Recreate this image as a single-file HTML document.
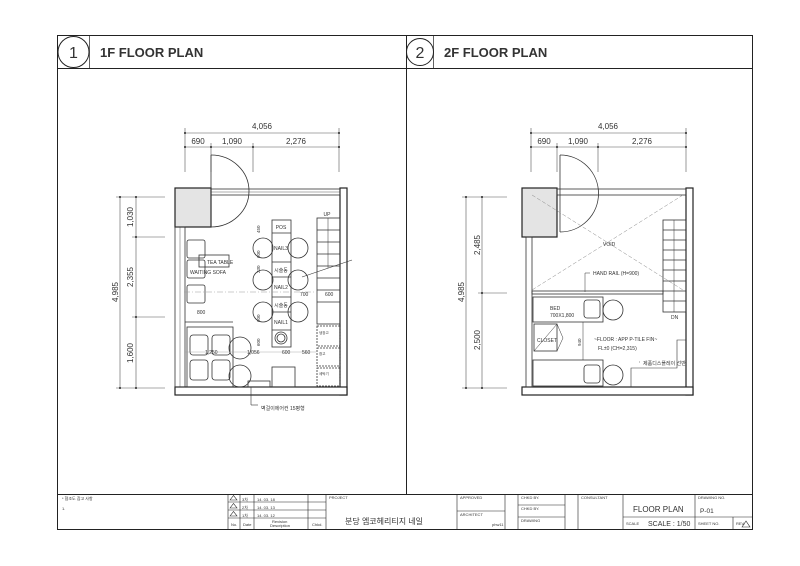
<!DOCTYPE html>
<html><head><meta charset="utf-8"><style>
html,body{margin:0;padding:0;background:#fff;}
svg{display:block;}
text{font-family:"Liberation Sans","Noto Sans CJK KR",sans-serif;fill:#333;}
</style></head><body>
<svg width="800" height="566" viewBox="0 0 800 566" xmlns="http://www.w3.org/2000/svg">
<rect width="800" height="566" fill="#fff"/>
<!-- frame -->
<rect x="57.5" y="35.5" width="695" height="494" fill="none" stroke="#222" stroke-width="1"/>
<line x1="57" y1="68.5" x2="752" y2="68.5" stroke="#222"/>
<line x1="406.5" y1="35" x2="406.5" y2="494" stroke="#222"/>
<line x1="89.5" y1="35" x2="89.5" y2="68" stroke="#222" stroke-width=".7"/>
<line x1="433.5" y1="35" x2="433.5" y2="68" stroke="#222" stroke-width=".7"/>
<circle cx="73.5" cy="52" r="15.5" fill="none" stroke="#222"/>
<circle cx="420" cy="52" r="13.5" fill="none" stroke="#222"/>
<text x="73.5" y="58" font-size="16" text-anchor="middle" fill="#111">1</text>
<text x="420" y="58" font-size="16" text-anchor="middle" fill="#111">2</text>
<text x="100" y="57" font-size="13" font-weight="bold" fill="#111">1F FLOOR PLAN</text>
<text x="444" y="57" font-size="13" font-weight="bold" fill="#111">2F FLOOR PLAN</text>

<!-- ===== PLAN 1 ===== -->
<g stroke="#555" stroke-width=".6" fill="none">
<line x1="185" y1="133" x2="339" y2="133"/>
<line x1="185" y1="147" x2="339" y2="147"/>
<line x1="185" y1="128" x2="185" y2="172"/><line x1="211" y1="143" x2="211" y2="172"/>
<line x1="253" y1="143" x2="253" y2="172"/><line x1="339" y1="128" x2="339" y2="172"/>
<line x1="120" y1="197" x2="120" y2="388"/><line x1="136" y1="197" x2="136" y2="388"/>
<line x1="116" y1="197" x2="165" y2="197"/><line x1="132" y1="237" x2="165" y2="237"/>
<line x1="132" y1="317" x2="165" y2="317"/><line x1="116" y1="388" x2="165" y2="388"/>
</g>
<g fill="#222"><circle cx="185" cy="133" r="1"/><circle cx="339" cy="133" r="1"/><circle cx="185" cy="147" r="1"/><circle cx="211" cy="147" r="1"/><circle cx="253" cy="147" r="1"/><circle cx="339" cy="147" r="1"/>
<circle cx="120" cy="197" r="1"/><circle cx="120" cy="388" r="1"/><circle cx="136" cy="197" r="1"/><circle cx="136" cy="237" r="1"/><circle cx="136" cy="317" r="1"/><circle cx="136" cy="388" r="1"/></g>
<text x="262" y="129" font-size="8" text-anchor="middle">4,056</text>
<text x="198" y="144" font-size="8" text-anchor="middle">690</text>
<text x="232" y="144" font-size="8" text-anchor="middle">1,090</text>
<text x="296" y="144" font-size="8" text-anchor="middle">2,276</text>
<text transform="translate(118,292) rotate(-90)" font-size="8" text-anchor="middle">4,985</text>
<text transform="translate(133,217) rotate(-90)" font-size="8" text-anchor="middle">1,030</text>
<text transform="translate(133,277) rotate(-90)" font-size="8" text-anchor="middle">2,355</text>
<text transform="translate(133,353) rotate(-90)" font-size="8" text-anchor="middle">1,600</text>

<g stroke="#333" stroke-width=".8" fill="none">
<rect x="175" y="188" width="36" height="39" fill="#e4e4e4" stroke="#222" stroke-width="1.2"/>
<rect x="340" y="188" width="7" height="207" fill="#fff" stroke="#222" stroke-width="1.2"/>
<rect x="175" y="387" width="172" height="8" fill="#fff" stroke="#222" stroke-width="1.2"/>
<rect x="211" y="189" width="129" height="6"/>
<line x1="211" y1="192" x2="340" y2="192" stroke-width=".4"/>
<line x1="211" y1="155" x2="211" y2="227"/>
<path d="M211 155 A38 36 0 0 1 211 227"/>
<rect x="175" y="227" width="10" height="160"/>
<line x1="180" y1="227" x2="180" y2="387" stroke-width=".4"/>
<!-- sofa -->
<rect x="187" y="240" width="18" height="18" rx="2"/><rect x="187" y="260" width="18" height="18" rx="2"/><rect x="187" y="285" width="18" height="18" rx="2"/>
<rect x="199" y="255" width="30" height="12"/>
<line x1="185" y1="322" x2="233" y2="322"/>
<!-- lower cabinets -->
<rect x="187" y="327" width="46" height="60"/>
<rect x="190" y="335" width="18" height="20" rx="3"/><rect x="190" y="360" width="18" height="20" rx="3"/>
<rect x="212" y="335" width="18" height="20" rx="3"/><rect x="212" y="360" width="18" height="20" rx="3"/>
<circle cx="240" cy="348" r="11"/><circle cx="240" cy="376" r="11"/>
<!-- counter -->
<rect x="272" y="220" width="19" height="127"/>
<line x1="272" y1="233" x2="291" y2="233"/><line x1="272" y1="262" x2="291" y2="262"/>
<line x1="272" y1="277" x2="291" y2="277"/><line x1="272" y1="297" x2="291" y2="297"/>
<line x1="272" y1="312" x2="291" y2="312"/><line x1="272" y1="330" x2="291" y2="330"/>
<circle cx="281" cy="338" r="6"/><circle cx="281" cy="338" r="4"/>
<circle cx="263" cy="248" r="10"/><circle cx="298" cy="248" r="10"/>
<circle cx="263" cy="280" r="10"/><circle cx="298" cy="280" r="10"/>
<circle cx="263" cy="312" r="10"/><circle cx="298" cy="312" r="10"/>
<!-- stairs -->
<rect x="317" y="218" width="23" height="106"/>
<line x1="317" y1="230" x2="340" y2="230"/><line x1="317" y1="242" x2="340" y2="242"/><line x1="317" y1="254" x2="340" y2="254"/>
<line x1="317" y1="266" x2="340" y2="266"/><line x1="317" y1="278" x2="340" y2="278"/><line x1="317" y1="290" x2="340" y2="290"/><line x1="317" y1="302" x2="340" y2="302"/>
<line x1="328" y1="218" x2="328" y2="268" stroke-width=".5"/>
<line x1="302" y1="277" x2="352" y2="260" stroke-width=".6"/>
<rect x="317" y="326" width="23" height="20" stroke-dasharray="2 1"/><rect x="317" y="348" width="23" height="18" stroke-dasharray="2 1"/><rect x="317" y="368" width="23" height="18" stroke-dasharray="2 1"/>
<rect x="272" y="367" width="23" height="20"/>
<rect x="248" y="381" width="22" height="6"/>
<line x1="251" y1="387" x2="251" y2="405" stroke-width=".6"/><line x1="251" y1="405" x2="258" y2="405" stroke-width=".6"/>
<line x1="184" y1="292" x2="316" y2="292" stroke="#999" stroke-dasharray="6 2 1 2" stroke-width=".5"/>
<line x1="185" y1="352" x2="316" y2="352" stroke="#999" stroke-width=".4"/>
</g>
<g font-size="5">
<text x="281" y="229" text-anchor="middle">POS</text>
<text x="281" y="250" text-anchor="middle">NAIL3</text>
<text x="281" y="272" text-anchor="middle">시술동</text>
<text x="281" y="289" text-anchor="middle">NAIL2</text>
<text x="281" y="307" text-anchor="middle">시술동</text>
<text x="281" y="324" text-anchor="middle">NAIL1</text>
<text x="207" y="264">TEA TABLE</text>
<text x="190" y="274">WAITING SOFA</text>
<text x="327" y="216" text-anchor="middle">UP</text>
<text x="300" y="296">700</text><text x="325" y="296">600</text>
<text x="197" y="314">800</text>
<text x="205" y="354">1,250</text><text x="247" y="354">1,056</text>
<text x="282" y="354">600</text><text x="302" y="354">560</text>
<text x="319" y="334" font-size="3.5">냉장고</text>
<text x="319" y="355" font-size="3.5">창고</text>
<text x="319" y="375" font-size="3.5">세탁기</text>
<text x="261" y="410">벽걸이에어컨 15평형</text>
</g>
<text transform="translate(260,233) rotate(-90)" font-size="4.5">450</text>
<text transform="translate(260,258) rotate(-90)" font-size="4.5">600</text>
<text transform="translate(260,273) rotate(-90)" font-size="4.5">230</text>
<text transform="translate(260,322) rotate(-90)" font-size="4.5">600</text>
<text transform="translate(260,346) rotate(-90)" font-size="4.5">600</text>

<!-- ===== PLAN 2 ===== -->
<g stroke="#555" stroke-width=".6" fill="none">
<line x1="531" y1="133" x2="686" y2="133"/>
<line x1="531" y1="147" x2="686" y2="147"/>
<line x1="531" y1="128" x2="531" y2="172"/><line x1="557" y1="143" x2="557" y2="172"/>
<line x1="598" y1="143" x2="598" y2="172"/><line x1="686" y1="128" x2="686" y2="172"/>
<line x1="466" y1="197" x2="466" y2="388"/><line x1="482" y1="197" x2="482" y2="388"/>
<line x1="462" y1="197" x2="507" y2="197"/><line x1="478" y1="293" x2="507" y2="293"/>
<line x1="462" y1="388" x2="507" y2="388"/>
</g>
<g fill="#222"><circle cx="531" cy="133" r="1"/><circle cx="686" cy="133" r="1"/><circle cx="531" cy="147" r="1"/><circle cx="557" cy="147" r="1"/><circle cx="598" cy="147" r="1"/><circle cx="686" cy="147" r="1"/>
<circle cx="466" cy="197" r="1"/><circle cx="466" cy="388" r="1"/><circle cx="482" cy="197" r="1"/><circle cx="482" cy="293" r="1"/><circle cx="482" cy="388" r="1"/></g>
<text x="608" y="129" font-size="8" text-anchor="middle">4,056</text>
<text x="544" y="144" font-size="8" text-anchor="middle">690</text>
<text x="578" y="144" font-size="8" text-anchor="middle">1,090</text>
<text x="642" y="144" font-size="8" text-anchor="middle">2,276</text>
<text transform="translate(464,292) rotate(-90)" font-size="8" text-anchor="middle">4,985</text>
<text transform="translate(480,245) rotate(-90)" font-size="8" text-anchor="middle">2,485</text>
<text transform="translate(480,340) rotate(-90)" font-size="8" text-anchor="middle">2,500</text>

<g stroke="#333" stroke-width=".8" fill="none">
<rect x="522" y="188" width="35" height="49" fill="#e4e4e4" stroke="#222" stroke-width="1.2"/>
<rect x="686" y="188" width="7" height="207" fill="#fff" stroke="#222" stroke-width="1.2"/>
<rect x="522" y="387" width="171" height="8" fill="#fff" stroke="#222" stroke-width="1.2"/>
<rect x="557" y="189" width="129" height="6"/>
<line x1="560" y1="155" x2="560" y2="232"/>
<path d="M560 155 A38 38 0 0 1 560 232"/>
<rect x="526" y="237" width="6" height="150"/>
<line x1="532" y1="195" x2="683" y2="290" stroke="#888" stroke-dasharray="4 2" stroke-width=".5"/>
<line x1="683" y1="195" x2="532" y2="290" stroke="#888" stroke-dasharray="4 2" stroke-width=".5"/>
<rect x="532" y="291" width="131" height="3"/>
<rect x="663" y="220" width="23" height="92"/>
<line x1="663" y1="230" x2="686" y2="230"/><line x1="663" y1="240" x2="686" y2="240"/><line x1="663" y1="250" x2="686" y2="250"/>
<line x1="663" y1="260" x2="686" y2="260"/><line x1="663" y1="270" x2="686" y2="270"/><line x1="663" y1="281" x2="686" y2="281"/>
<line x1="663" y1="291" x2="686" y2="291"/><line x1="663" y1="301" x2="686" y2="301"/>
<line x1="674" y1="220" x2="674" y2="312" stroke-width=".5"/>
<rect x="533" y="297" width="70" height="25"/>
<rect x="584" y="300" width="16" height="18" rx="3"/><circle cx="613" cy="310" r="10"/>
<rect x="534" y="324" width="23" height="27"/>
<path d="M534 351 L557 324 L563 338 L557 351" stroke-width=".5"/>
<rect x="533" y="360" width="70" height="26"/>
<rect x="584" y="365" width="16" height="18" rx="3"/><circle cx="613" cy="375" r="10"/>
<line x1="583" y1="322" x2="583" y2="360" stroke-width=".5"/>
<path d="M631 387 L631 368 L677 368 L677 340 L686 340" stroke-width=".6"/>
<line x1="585" y1="273" x2="585" y2="292" stroke-width=".5"/><line x1="585" y1="273" x2="590" y2="273" stroke-width=".5"/>
<line x1="639" y1="362" x2="640" y2="362" stroke-width=".5"/>
</g>
<g font-size="5">
<text x="603" y="246">VOID</text>
<text x="593" y="275">HAND RAIL (H=900)</text>
<text x="550" y="310">BED</text>
<text x="550" y="317">700X1,800</text>
<text x="537" y="342">CLOSET</text>
<text x="594" y="341">~FLOOR : APP P-TILE FIN~</text>
<text x="598" y="350">FL±0 (CH=2,315)</text>
<text x="643" y="365">제품디스플레이 선반</text>
<text x="671" y="319">DN</text>
</g>
<text transform="translate(581,346) rotate(-90)" font-size="4.5">940</text>

<!-- ===== TITLE BLOCK ===== -->
<g stroke="#222" stroke-width=".6" fill="none">
<line x1="57" y1="494.5" x2="752" y2="494.5" stroke-width="1"/>
<line x1="228" y1="494" x2="228" y2="529"/><line x1="240" y1="494" x2="240" y2="529"/>
<line x1="254" y1="494" x2="254" y2="529"/><line x1="308" y1="494" x2="308" y2="529"/>
<line x1="326" y1="494" x2="326" y2="529"/><line x1="457" y1="494" x2="457" y2="529"/>
<line x1="505" y1="494" x2="505" y2="529"/><line x1="518" y1="494" x2="518" y2="529"/>
<line x1="565" y1="494" x2="565" y2="529"/><line x1="578" y1="494" x2="578" y2="529"/>
<line x1="623" y1="494" x2="623" y2="529"/><line x1="695" y1="494" x2="695" y2="529"/>
<line x1="228" y1="502" x2="326" y2="502"/><line x1="228" y1="510" x2="326" y2="510"/><line x1="228" y1="518" x2="326" y2="518"/>
<line x1="457" y1="511" x2="505" y2="511"/>
<line x1="518" y1="505" x2="565" y2="505"/><line x1="518" y1="517" x2="565" y2="517"/>
<line x1="623" y1="517" x2="752" y2="517"/>
<line x1="733" y1="517" x2="733" y2="529"/>
<path d="M230 500 L233.5 495.5 L237 500 Z"/><path d="M230 508 L233.5 503.5 L237 508 Z"/><path d="M230 516 L233.5 511.5 L237 516 Z"/>
<path d="M742 527 L746 521 L750 527 Z"/>
</g>
<g font-size="4">
<text x="62" y="500">* 협조도 참고 사항</text><text x="62" y="510">1.</text>
<text x="242" y="501">3차</text><text x="242" y="509">2차</text><text x="242" y="517">1차</text>
<text x="257" y="501">14. 03. 18</text><text x="257" y="509">14. 03. 13</text><text x="257" y="517">14. 03. 12</text>
<text x="231" y="526">No.</text><text x="243" y="526">Date</text><text x="272" y="523">Revision</text><text x="270" y="527">Description</text><text x="312" y="526">Chkd.</text>
<text x="329" y="499">PROJECT</text>
<text x="460" y="499">APPROVED</text><text x="460" y="516">ARCHITECT</text><text x="492" y="526">phw11</text>
<text x="521" y="499">CHKD BY.</text><text x="521" y="510">CHKD BY.</text><text x="521" y="522">DRAWING</text>
<text x="581" y="499">CONSULTANT</text>
<text x="698" y="499">DRAWING NO.</text>
<text x="626" y="525">SCALE</text><text x="698" y="525">SHEET NO.</text><text x="736" y="525">REV.</text>
</g>
<text x="345" y="524" font-size="8">분당 엠코헤리티지 네일</text>
<text x="633" y="512" font-size="8">FLOOR PLAN</text>
<text x="700" y="513" font-size="6.5">P-01</text>
<text x="648" y="526" font-size="7">SCALE : 1/50</text>
</svg>
</body></html>
